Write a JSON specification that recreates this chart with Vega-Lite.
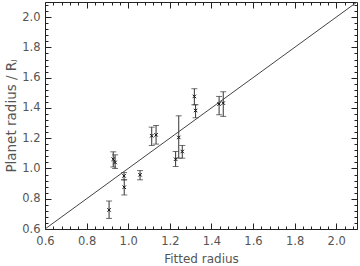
{
  "$schema": "https://vega.github.io/schema/vega-lite/v6.json",
  "width": 312,
  "height": 227,
  "autosize": {"type": "none"},
  "padding": {"left": 45, "top": 2, "right": 3, "bottom": 37},
  "config": {
    "view": {"stroke": "#222", "strokeWidth": 1},
    "axis": {
      "domain": false,
      "grid": false,
      "tickColor": "#222",
      "tickWidth": 1,
      "labelFont": "DejaVu Sans",
      "labelFontSize": 11.5,
      "labelColor": "#555",
      "labelOverlap": false,
      "labelFlush": false,
      "titleFont": "DejaVu Sans",
      "titleFontSize": 12,
      "titleFontWeight": "normal",
      "titleColor": "#555"
    }
  },
  "datasets": {
    "pts": [
      {"fit": 0.908, "r": 0.726, "lo": 0.67, "hi": 0.785},
      {"fit": 0.928, "r": 1.061, "lo": 1.01, "hi": 1.11},
      {"fit": 0.937, "r": 1.04, "lo": 1.0, "hi": 1.09},
      {"fit": 0.98, "r": 0.951, "lo": 0.925, "hi": 0.973},
      {"fit": 0.981, "r": 0.876, "lo": 0.825, "hi": 0.925},
      {"fit": 1.057, "r": 0.958, "lo": 0.925, "hi": 0.986},
      {"fit": 1.113, "r": 1.216, "lo": 1.152, "hi": 1.273},
      {"fit": 1.134, "r": 1.222, "lo": 1.161, "hi": 1.284},
      {"fit": 1.228, "r": 1.061, "lo": 1.013, "hi": 1.112},
      {"fit": 1.243, "r": 1.205, "lo": 1.068, "hi": 1.348},
      {"fit": 1.26, "r": 1.112, "lo": 1.068, "hi": 1.152},
      {"fit": 1.318, "r": 1.476, "lo": 1.421, "hi": 1.527},
      {"fit": 1.324, "r": 1.383, "lo": 1.335, "hi": 1.421},
      {"fit": 1.437, "r": 1.426, "lo": 1.355, "hi": 1.476},
      {"fit": 1.457, "r": 1.432, "lo": 1.344, "hi": 1.507}
    ],
    "line": [
      {"fit": 0.6, "r": 0.6},
      {"fit": 2.1, "r": 2.1}
    ]
  },
  "layer": [
    {
      "data": {"name": "pts"},
      "mark": {"type": "errorbar", "ticks": {"size": 6, "color": "#333"}, "color": "#333", "thickness": 1},
      "encoding": {
        "x": {
          "field": "fit", "type": "quantitative",
          "scale": {"domain": [0.6, 2.1], "nice": false, "zero": false},
          "axis": {
            "orient": "bottom",
            "title": "Fitted radius",
            "titlePadding": 4,
            "values": [0.6,0.64,0.68,0.72,0.76,0.8,0.84,0.88,0.92,0.96,1.0,1.04,1.08,1.12,1.16,1.2,1.24,1.28,1.32,1.36,1.4,1.44,1.48,1.52,1.56,1.6,1.64,1.68,1.72,1.76,1.8,1.84,1.88,1.92,1.96,2.0,2.04,2.08],
            "tickSize": {"condition": {"test": "abs(datum.value*5 - round(datum.value*5)) < 0.001", "value": -6}, "value": -3},
            "labelExpr": "abs(datum.value*5 - round(datum.value*5)) < 0.001 ? format(datum.value, '.1f') : ''",
            "labelPadding": 12
          }
        },
        "y": {
          "field": "lo", "type": "quantitative",
          "scale": {"domain": [0.6, 2.1], "nice": false, "zero": false},
          "axis": {
            "orient": "left",
            "title": "Planet radius / Rⱼ",
            "titleFontSize": 13.5,
            "titlePadding": 3,
            "values": [0.6,0.64,0.68,0.72,0.76,0.8,0.84,0.88,0.92,0.96,1.0,1.04,1.08,1.12,1.16,1.2,1.24,1.28,1.32,1.36,1.4,1.44,1.48,1.52,1.56,1.6,1.64,1.68,1.72,1.76,1.8,1.84,1.88,1.92,1.96,2.0,2.04,2.08],
            "tickSize": {"condition": {"test": "abs(datum.value*5 - round(datum.value*5)) < 0.001", "value": -6}, "value": -3},
            "labelExpr": "abs(datum.value*5 - round(datum.value*5)) < 0.001 ? format(datum.value, '.1f') : ''",
            "labelPadding": 11
          }
        },
        "y2": {"field": "hi"}
      }
    },
    {
      "data": {"name": "pts"},
      "mark": {"type": "point", "shape": "M-1,-1L1,1M-1,1L1,-1", "size": 12, "filled": false, "color": "#111", "strokeWidth": 1, "opacity": 1},
      "encoding": {
        "x": {"field": "fit", "type": "quantitative", "axis": null},
        "y": {"field": "r", "type": "quantitative", "axis": null}
      }
    },
    {
      "data": {"name": "line"},
      "mark": {"type": "line", "color": "#444", "strokeWidth": 1, "clip": true},
      "encoding": {
        "x": {
          "field": "fit", "type": "quantitative",
          "axis": {
            "orient": "top", "title": null, "labels": false,
            "values": [0.6,0.64,0.68,0.72,0.76,0.8,0.84,0.88,0.92,0.96,1.0,1.04,1.08,1.12,1.16,1.2,1.24,1.28,1.32,1.36,1.4,1.44,1.48,1.52,1.56,1.6,1.64,1.68,1.72,1.76,1.8,1.84,1.88,1.92,1.96,2.0,2.04,2.08],
            "tickSize": {"condition": {"test": "abs(datum.value*5 - round(datum.value*5)) < 0.001", "value": -6}, "value": -3}
          }
        },
        "y": {
          "field": "r", "type": "quantitative",
          "axis": {
            "orient": "right", "title": null, "labels": false,
            "values": [0.6,0.64,0.68,0.72,0.76,0.8,0.84,0.88,0.92,0.96,1.0,1.04,1.08,1.12,1.16,1.2,1.24,1.28,1.32,1.36,1.4,1.44,1.48,1.52,1.56,1.6,1.64,1.68,1.72,1.76,1.8,1.84,1.88,1.92,1.96,2.0,2.04,2.08],
            "tickSize": {"condition": {"test": "abs(datum.value*5 - round(datum.value*5)) < 0.001", "value": -6}, "value": -3}
          }
        }
      }
    }
  ],
  "resolve": {"axis": {"x": "independent", "y": "independent"}}
}
